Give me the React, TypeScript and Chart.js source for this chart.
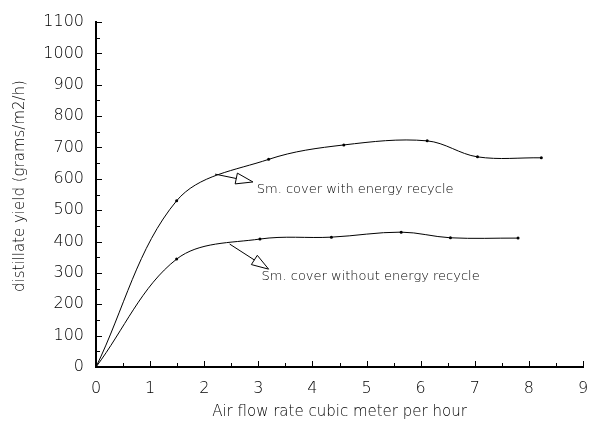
import React, { useEffect, useRef } from "react";
import { Chart, registerables } from "chart.js";

Chart.register(...registerables);

// ---- data ----
const withRecycleX = [0, 1.49, 3.19, 4.58, 6.12, 7.05, 8.23];
const withRecycleY = [0, 530, 662, 708, 721, 670, 667];
const withoutRecycleX = [0, 1.49, 3.03, 4.35, 5.64, 6.55, 7.8];
const withoutRecycleY = [0, 344, 408, 414, 430, 412, 411];

const xMin = 0;
const xMax = 9;
const xStep = 1;
const yMin = 0;
const yMax = 1100;
const yStep = 100;

const xTitle = "Air flow rate cubic meter per hour";
const yTitle = "distillate yield (grams/m2/h)";

const labelWith = "Sm. cover with energy recycle";
const labelWithout = "Sm. cover without energy recycle";
// arrow start, arrow tip, text anchor (data units)
const arrowWith = [2.2, 615, 2.9, 590, 2.97, 564];
const arrowWithout = [2.47, 392, 3.19, 312, 3.06, 287];

const FAMILY = "'DejaVu Sans', sans-serif";
const WEIGHT = "200";

const toPoints = (xs: number[], ys: number[]) => xs.map((x, i) => ({ x, y: ys[i] }));

const overlayPlugin = {
  id: "overlay",
  afterDraw(chart: any) {
    const ctx = chart.ctx as CanvasRenderingContext2D;
    const xs = chart.scales.x;
    const ys = chart.scales.y;
    const x0 = xs.getPixelForValue(xMin);
    const y0 = ys.getPixelForValue(yMin);
    ctx.save();
    ctx.strokeStyle = "#000";
    ctx.lineWidth = 1;
    // inward ticks on x
    for (let v = xMin; v <= xMax + 1e-9; v += xStep / 2) {
      const px = Math.round(xs.getPixelForValue(v)) + 0.5;
      const major = Math.abs(v - Math.round(v)) < 1e-9;
      ctx.beginPath();
      ctx.moveTo(px, y0);
      ctx.lineTo(px, y0 - (major ? 6 : 4));
      ctx.stroke();
    }
    // inward ticks on y
    for (let v = yMin; v <= yMax + 1e-9; v += yStep / 2) {
      const py = Math.round(ys.getPixelForValue(v)) + 0.5;
      const major = Math.abs(v / yStep - Math.round(v / yStep)) < 1e-9;
      ctx.beginPath();
      ctx.moveTo(x0, py);
      ctx.lineTo(x0 + (major ? 6 : 4), py);
      ctx.stroke();
    }

    // titles
    ctx.fillStyle = "#000";
    ctx.font = `${WEIGHT} 15px ${FAMILY}`;
    ctx.textAlign = "center";
    ctx.textBaseline = "middle";
    ctx.fillText(xTitle, (xs.left + xs.right) / 2, 412);
    ctx.save();
    ctx.translate(20, 186);
    ctx.rotate(-Math.PI / 2);
    ctx.fillText(yTitle, 0, 0);
    ctx.restore();

    // annotations
    const drawArrow = (a: number[], text: string) => {
      const sx = xs.getPixelForValue(a[0]);
      const sy = ys.getPixelForValue(a[1]);
      const tx = xs.getPixelForValue(a[2]);
      const ty = ys.getPixelForValue(a[3]);
      const dx = tx - sx;
      const dy = ty - sy;
      const len = Math.hypot(dx, dy);
      const ux = dx / len;
      const uy = dy / len;
      const headLen = 17;
      const half = 5.5;
      const bx = tx - ux * headLen;
      const by = ty - uy * headLen;
      ctx.beginPath();
      ctx.moveTo(sx, sy);
      ctx.lineTo(bx, by);
      ctx.stroke();
      ctx.beginPath();
      ctx.moveTo(bx - uy * half, by + ux * half);
      ctx.lineTo(tx, ty);
      ctx.lineTo(bx + uy * half, by - ux * half);
      ctx.closePath();
      ctx.stroke();
      ctx.textAlign = "left";
      ctx.textBaseline = "middle";
      ctx.font = `${WEIGHT} 13px ${FAMILY}`;
      ctx.fillText(text, xs.getPixelForValue(a[4]), ys.getPixelForValue(a[5]));
    };
    drawArrow(arrowWith, labelWith);
    drawArrow(arrowWithout, labelWithout);
    ctx.restore();
  },
};

export default function App() {
  const ref = useRef<HTMLCanvasElement | null>(null);

  useEffect(() => {
    if (!ref.current) return;
    const lineStyle = {
      borderColor: "#000",
      backgroundColor: "#000",
      borderWidth: 1,
      pointRadius: 1.5,
      pointBorderWidth: 0,
      pointBackgroundColor: "#000",
      tension: 0.35,
      fill: false,
    };
    const tickFont = { family: FAMILY, size: 16, weight: WEIGHT as any };
    const chart = new Chart(ref.current, {
      type: "scatter",
      data: {
        datasets: [
          { ...lineStyle, label: labelWith, data: toPoints(withRecycleX, withRecycleY), showLine: true },
          { ...lineStyle, label: labelWithout, data: toPoints(withoutRecycleX, withoutRecycleY), showLine: true },
        ],
      },
      options: {
        animation: false,
        responsive: true,
        maintainAspectRatio: false,
        layout: { padding: { top: 22, right: 6, bottom: 0, left: 0 } },
        plugins: { legend: { display: false }, tooltip: { enabled: false } },
        scales: {
          x: {
            type: "linear",
            min: xMin,
            max: xMax,
            grid: { display: false },
            border: { display: true, color: "#000", width: 2 },
            ticks: {
              stepSize: xStep,
              autoSkip: false,
              color: "#000",
              padding: 4,
              maxRotation: 0,
              font: tickFont,
              callback: (v: any) => String(v),
            },
            afterFit: (s: any) => {
              s.height = 54;
              s.paddingLeft = 0;
              s.paddingRight = 0;
            },
          },
          y: {
            type: "linear",
            min: yMin,
            max: yMax,
            grid: { display: false },
            border: { display: true, color: "#000", width: 2 },
            ticks: {
              stepSize: yStep,
              autoSkip: false,
              color: "#000",
              padding: 4,
              font: tickFont,
              callback: (v: any) => String(v),
            },
            afterFit: (s: any) => {
              s.width = 96;
              s.paddingTop = 0;
              s.paddingBottom = 0;
            },
          },
        },
      },
      plugins: [overlayPlugin],
    });
    return () => chart.destroy();
  }, []);

  return (
    <div style={{ position: "fixed", left: 0, top: 0, width: 589, height: 421, background: "#fff" }}>
      <canvas ref={ref} />
    </div>
  );
}
